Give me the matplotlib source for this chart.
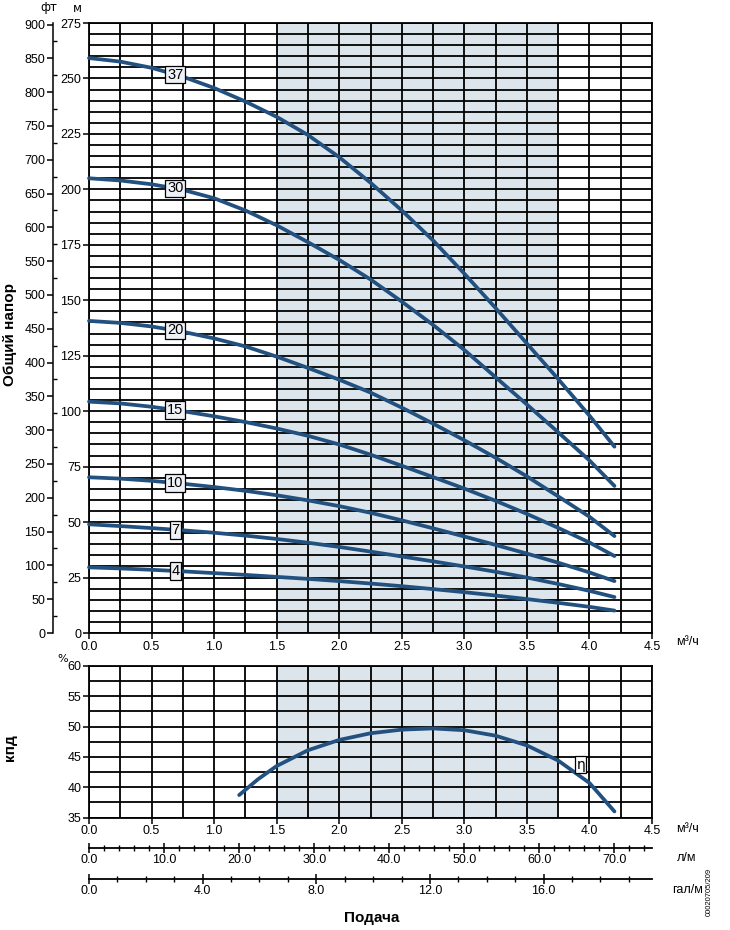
import numpy as np
import matplotlib
matplotlib.use("Agg")
import matplotlib.pyplot as plt
from matplotlib.ticker import MultipleLocator

plt.rcParams['font.family'] = ['Liberation Sans', 'DejaVu Sans']

# ---------------- data ----------------
q = [0.0, 0.25, 0.5, 0.75, 1.0, 1.25, 1.5, 1.75, 2.0, 2.25, 2.5, 2.75, 3.0, 3.25, 3.5, 3.75, 4.0, 4.2]
h37 = [259.2, 257.6, 254.8, 250.8, 245.7, 239.6, 232.7, 224.5, 214.5, 203.0, 190.5, 177.0, 162.0, 146.5, 130.5, 114.5, 98.0, 84.0]
h30 = [205.0, 204.0, 202.3, 199.8, 196.0, 190.5, 183.8, 176.2, 168.2, 159.4, 149.4, 138.9, 127.6, 115.3, 103.0, 90.5, 77.8, 66.3]
h20 = [140.7, 139.8, 138.2, 135.8, 132.8, 129.2, 124.6, 119.5, 114.2, 108.4, 101.6, 94.4, 86.9, 79.0, 70.6, 61.6, 52.4, 43.7]
h15 = [104.3, 103.5, 102.0, 100.0, 97.7, 95.1, 92.2, 88.9, 85.0, 80.4, 75.4, 70.3, 65.1, 59.6, 53.7, 47.4, 40.8, 34.7]
h10 = [70.2, 69.6, 68.6, 67.3, 65.8, 64.1, 62.1, 59.8, 57.2, 54.2, 50.8, 47.2, 43.5, 39.7, 35.8, 31.7, 27.3, 23.4]
h7 = [49.0, 48.2, 47.3, 46.3, 45.2, 43.9, 42.4, 40.7, 38.8, 36.7, 34.5, 32.3, 30.0, 27.6, 25.0, 22.1, 19.0, 16.2]
h4 = [29.6, 29.1, 28.5, 27.8, 27.0, 26.2, 25.3, 24.4, 23.4, 22.3, 21.1, 19.8, 18.4, 16.9, 15.3, 13.6, 11.8, 10.1]
curve_names = ['37', '30', '20', '15', '10', '7', '4']
curves = [h37, h30, h20, h15, h10, h7, h4]

q_eff = [1.2, 1.35, 1.5, 1.75, 2.0, 2.25, 2.5, 2.75, 3.0, 3.25, 3.5, 3.75, 4.0, 4.2]
eff = [38.7, 41.3, 43.5, 46.1, 47.8, 48.9, 49.5, 49.7, 49.4, 48.5, 46.9, 44.4, 40.7, 36.0]

label_q = 0.69
eta_pos = (3.93, 43.7)

xticks_m3h = [0.0, 0.5, 1.0, 1.5, 2.0, 2.5, 3.0, 3.5, 4.0, 4.5]
yticks_m = [0, 25, 50, 75, 100, 125, 150, 175, 200, 225, 250, 275]
yticks_ft = list(range(0, 901, 50))
yticks_eff = [35, 40, 45, 50, 55, 60]
lpm_ticks = [0, 10, 20, 30, 40, 50, 60, 70]
gpm_ticks = [0, 4, 8, 12, 16]

# ---------------- style ----------------
W, H = 730, 930
blue = '#22517f'
shade = '#dce4ec'
glw = 1.3
fs = 9

fig = plt.figure(figsize=(7.3, 9.3), dpi=100)

def rect(x0, y0, x1, y1):
    return [x0 / W, 1 - y1 / H, (x1 - x0) / W, (y1 - y0) / H]

def style_grid(a):
    a.grid(which='both', color='black', lw=glw, zorder=1)
    a.set_axisbelow(False)
    for s in a.spines.values():
        s.set_color('black')
        s.set_linewidth(glw)
    a.tick_params(which='minor', length=0)
    a.tick_params(which='major', length=4, width=1.1, direction='out', labelsize=fs, pad=1.5)

# ---------- head chart ----------
ax = fig.add_axes(rect(89, 23, 652, 633))
ax.set_xlim(0, 4.5)
ax.set_ylim(0, 275)
ax.axvspan(1.5, 3.75, color=shade, zorder=0, lw=0)
ax.set_xticks(xticks_m3h)
ax.set_xticklabels([f'{v:.1f}' for v in xticks_m3h])
ax.xaxis.set_minor_locator(MultipleLocator(0.25))
ax.set_yticks(yticks_m)
ax.yaxis.set_minor_locator(MultipleLocator(5))
style_grid(ax)
for name, h in zip(curve_names, curves):
    ax.plot(q, h, color=blue, lw=2.7, solid_capstyle='round', solid_joinstyle='round',
            zorder=3, clip_on=False)
    ax.text(label_q, np.interp(label_q, q, h), name, ha='center', va='center', fontsize=10.5,
            zorder=5, bbox=dict(boxstyle='square,pad=0.12', fc='#eef2f6', ec='black', lw=0.9))

# ft axis
axf = fig.add_axes(rect(53, 23, 54, 633))
axf.set_ylim(0, 275 / 0.3048)
axf.set_xlim(0, 1)
axf.patch.set_visible(False)
for k in ['top', 'right', 'bottom']:
    axf.spines[k].set_visible(False)
axf.spines['left'].set_linewidth(1.1)
axf.set_xticks([])
axf.set_yticks(yticks_ft)
axf.yaxis.set_minor_locator(MultipleLocator(25))
axf.tick_params(which='major', length=4, width=1.1, direction='out', labelsize=fs, pad=1.5)
axf.tick_params(which='minor', length=3, width=1.0, direction='in')

# ---------- efficiency chart ----------
ax2 = fig.add_axes(rect(89, 666, 652, 817.5))
ax2.set_xlim(0, 4.5)
ax2.set_ylim(35, 60)
ax2.axvspan(1.5, 3.75, color=shade, zorder=0, lw=0)
ax2.set_xticks(xticks_m3h)
ax2.set_xticklabels([f'{v:.1f}' for v in xticks_m3h])
ax2.xaxis.set_minor_locator(MultipleLocator(0.25))
ax2.set_yticks(yticks_eff)
ax2.yaxis.set_minor_locator(MultipleLocator(2.5))
style_grid(ax2)
ax2.plot(q_eff, eff, color=blue, lw=2.7, solid_capstyle='round', solid_joinstyle='round',
         zorder=3, clip_on=False)
ax2.text(eta_pos[0], eta_pos[1], 'η', ha='center', va='center', fontsize=10, zorder=5,
         family=['DejaVu Sans'],
         bbox=dict(boxstyle='square,pad=0.1', fc='white', ec='black', lw=0.9))

# ---------- extra flow scales ----------
def scale_axis(ypx, xmax, major, minor_step):
    a = fig.add_axes(rect(89, ypx - 0.5, 652, ypx + 0.5))
    a.set_xlim(0, xmax)
    a.set_ylim(0, 1)
    a.patch.set_visible(False)
    for k in ['top', 'right', 'left']:
        a.spines[k].set_visible(False)
    a.spines['bottom'].set_position(('axes', 0.5))
    a.spines['bottom'].set_linewidth(1.3)
    a.set_yticks([])
    a.set_xticks(major)
    a.set_xticklabels([f'{v:.1f}' for v in major])
    a.xaxis.set_minor_locator(MultipleLocator(minor_step))
    a.tick_params(which='major', length=7, width=1.1, direction='inout', labelsize=fs, pad=1)
    a.tick_params(which='minor', length=5, width=1.0, direction='inout')
    return a

scale_axis(848, 75.0, lpm_ticks, 2)
scale_axis(879, 4.5 * 1000 / 60 / 3.785411784, gpm_ticks, 1)

# ---------- texts ----------
def ftext(x, y, s, **kw):
    fig.text(x / W, 1 - y / H, s, **kw)

ftext(49, 8, 'фт', ha='center', va='center', fontsize=8.5, family=['DejaVu Sans'])
ftext(77, 8, 'м', ha='center', va='center', fontsize=8.5, family=['DejaVu Sans'])
ftext(63, 659, '%', ha='center', va='center', fontsize=8, family=['DejaVu Sans'])
ftext(10, 335, 'Общий напор', ha='center', va='center', rotation=90, fontsize=11,
      fontweight='bold')
ftext(10, 748, 'кпд', ha='center', va='center', rotation=90, fontsize=11,
      fontweight='bold')
ftext(372, 918, 'Подача', ha='center', va='center', fontsize=11, fontweight='bold')
ftext(676, 642, 'м³/ч', ha='left', va='center', fontsize=9)
ftext(676, 829, 'м³/ч', ha='left', va='center', fontsize=9)
ftext(677, 858, 'л/м', ha='left', va='center', fontsize=9)
ftext(672, 890, 'гал/м', ha='left', va='center', fontsize=9)
ftext(709, 892, '00020705/209', ha='center', va='center', rotation=90, fontsize=5.5)

fig.savefig('out.png', dpi=100)
